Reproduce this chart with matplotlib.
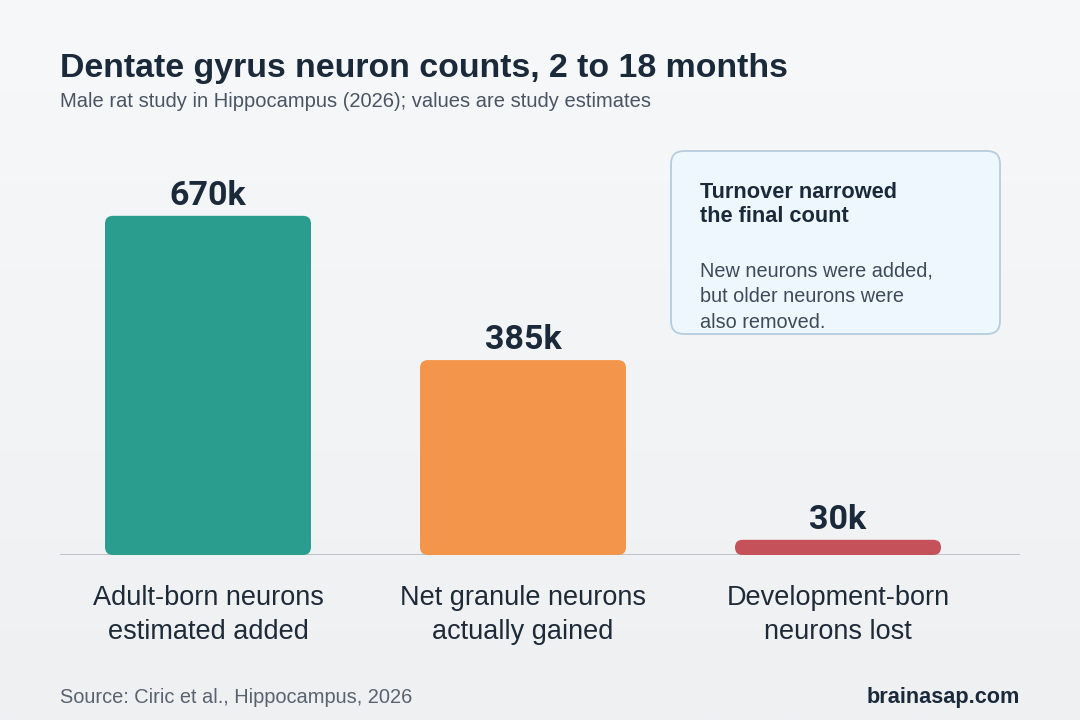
import numpy as np
import matplotlib
matplotlib.use("Agg")
import matplotlib.pyplot as plt
from matplotlib.patches import FancyBboxPatch
from matplotlib import transforms

# data
categories = ["Adult-born neurons\nestimated added",
              "Net granule neurons\nactually gained",
              "Development-born\nneurons lost"]
values = [670, 385, 30]          # thousands of neurons
value_labels = ["670k", "385k", "30k"]
colors = ["#2a9d8e", "#f3964b", "#c5525a"]

title = "Dentate gyrus neuron counts, 2 to 18 months"
subtitle = "Male rat study in Hippocampus (2026); values are study estimates"
note_title = "Turnover narrowed\nthe final count"
note_body = "New neurons were added,\nbut older neurons were\nalso removed."
source = "Source: Ciric et al., Hippocampus, 2026"
brand = "brainasap.com"

W, H = 1080, 720
DARK = "#1b2a3a"
plt.rcParams["font.family"] = ["Liberation Sans", "DejaVu Sans"]


def fx(px):
    return px / W


def fy(py):
    # py measured from the top of the image
    return 1 - py / H


fig = plt.figure(figsize=(W / 100, H / 100), dpi=100)

# soft vertical background gradient
bg = fig.add_axes([0, 0, 1, 1], zorder=-10)
grad = np.linspace(0, 1, 256).reshape(-1, 1)
top = np.array(matplotlib.colors.to_rgb("#f7f8fa"))
bot = np.array(matplotlib.colors.to_rgb("#eef0f2"))
img = top + (bot - top) * grad[..., None]
bg.imshow(img, aspect="auto", extent=[0, 1, 0, 1])
bg.axis("off")

# main axes: baseline at y=555px, spans x 60..1020px
ax_top, ax_bot = 150, 555
ax = fig.add_axes([fx(60), fy(ax_bot), fx(960), (ax_bot - ax_top) / H])
ax.set_facecolor("none")
x = np.arange(len(values))
ax.set_xlim(-148 / 315, (960 - 148) / 315)
ax.set_ylim(0, 800)
ax.axis("off")
ax.axhline(0, color="#bfc3ca", lw=2.2, zorder=1)

# rounded bars
bar_w = 206 / 315
px_per_x = 960 / (ax.get_xlim()[1] - ax.get_xlim()[0])
px_per_y = (ax_bot - ax_top) / (ax.get_ylim()[1] - ax.get_ylim()[0])
aspect = px_per_x / px_per_y
for xi, v, c, lab in zip(x, values, colors, value_labels):
    h_px = v * px_per_y
    r_px = min(8, h_px / 2)
    patch = FancyBboxPatch((xi - bar_w / 2, 0), bar_w, v,
                           boxstyle=f"round,pad=0,rounding_size={r_px / px_per_x}",
                           mutation_aspect=aspect, fc=c, ec="none", zorder=2)
    ax.add_patch(patch)
    ax.annotate(lab, (xi, v), xytext=(0, 8), textcoords="offset points",
                ha="center", va="baseline", fontsize=24.5, fontweight="bold",
                family=["Roboto", "DejaVu Sans"], color=DARK)

# category labels under the bars
tr = transforms.blended_transform_factory(ax.transData, fig.transFigure)
for xi, cat in zip(x, categories):
    ax.text(xi, fy(585), cat, transform=tr, ha="center", va="top",
            fontsize=19.5, color="#1e2a38", linespacing=1.38)

# title block
fig.text(fx(60), fy(77), title, fontsize=24.4, fontweight="bold", color=DARK,
         va="baseline")
fig.text(fx(60), fy(107), subtitle, fontsize=14.5, color="#4a5563",
         va="baseline")

# callout box
box = FancyBboxPatch((fx(671), fy(334)), fx(329), (334 - 151) / H,
                     boxstyle=f"round,pad=0,rounding_size={fx(13)}",
                     mutation_aspect=W / H, transform=fig.transFigure,
                     fc="#eff7fe", ec="#b4cde0", lw=1.3, zorder=3)
fig.add_artist(box)
fig.text(fx(700), fy(182), note_title, fontsize=15.7, fontweight="bold",
         color=DARK, va="top", linespacing=1.16, zorder=4)
fig.text(fx(700), fy(261), note_body, fontsize=14.3, color="#3d4a5a",
         va="top", linespacing=1.45, zorder=4)

# footer
fig.text(fx(60), fy(703), source, fontsize=14.4, color="#5a6270",
         va="baseline")
fig.text(fx(1020), fy(703), brand, fontsize=15.6, fontweight="bold",
         color=DARK, ha="right", va="baseline")

fig.savefig("out.png", dpi=100)
